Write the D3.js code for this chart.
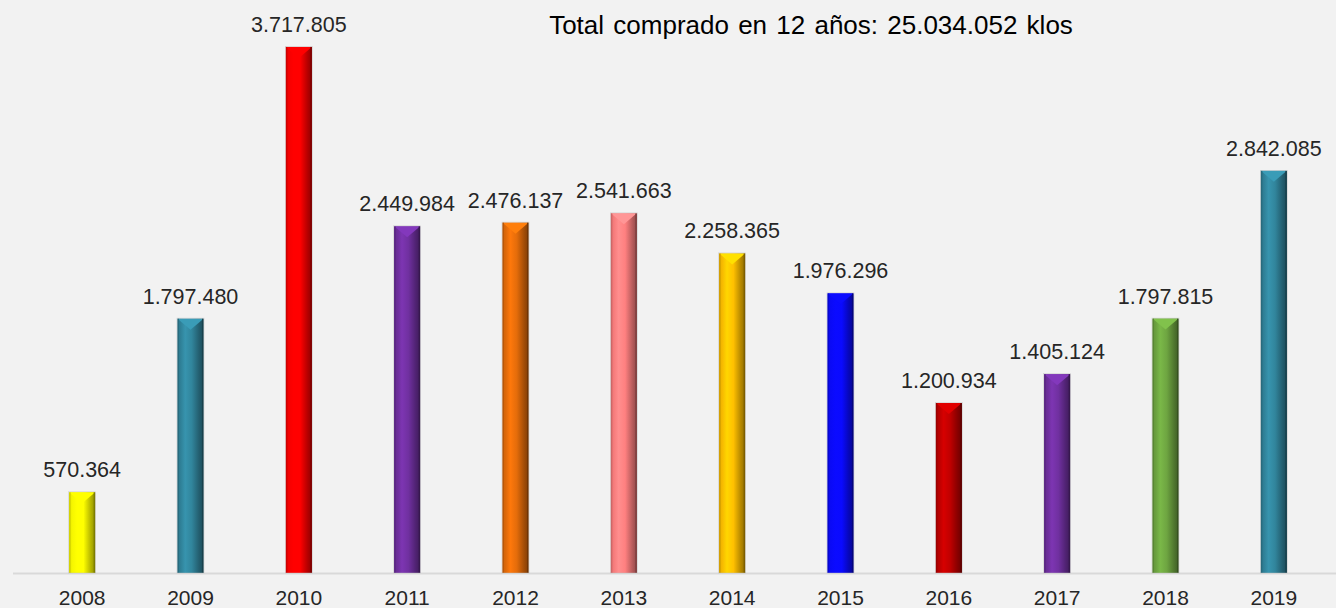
<!DOCTYPE html>
<html><head><meta charset="utf-8">
<script src="https://cdn.jsdelivr.net/npm/d3@7"></script>
<style>
html,body{margin:0;padding:0;background:#f2f2f2;}
svg{display:block;font-family:"Liberation Sans",Arial,sans-serif;}
</style></head>
<body>
<svg id="chart" width="1336" height="608"></svg>
<script>
const years = ["2008","2009","2010","2011","2012","2013","2014","2015","2016","2017","2018","2019"];
const values = [570364,1797480,3717805,2449984,2476137,2541663,2258365,1976296,1200934,1405124,1797815,2842085];
const labels = ["570.364","1.797.480","3.717.805","2.449.984","2.476.137","2.541.663","2.258.365","1.976.296","1.200.934","1.405.124","1.797.815","2.842.085"];
const colors = ["#ffff00","#31859c","#ff0000","#7030a0","#e46c0a","#ff8080","#ffc000","#0a0aff","#c00000","#7030a0","#6ea541","#31859c"];
const title = "Total comprado en 12 años: 25.034.052 klos";

const W = 1336, H = 608;
const svg = d3.select("#chart");
svg.append("rect").attr("width",W).attr("height",H).attr("fill","#f2f2f2");

const x = d3.scaleBand().domain(years).range([28,1328]).paddingInner(0.76).paddingOuter(0.38);
const y = d3.scaleLinear().domain([0,4000000]).range([573,7]);

const defs = svg.append("defs");
years.forEach((yr,i)=>{
  const c = d3.color(colors[i]);
  const g = defs.append("linearGradient").attr("id","g"+i).attr("x1","0").attr("x2","1").attr("y1","0").attr("y2","0");
  const stops = [
    [0, c.darker(0.3)],
    [0.12, c.darker(0.1)],
    [0.3, c.brighter(0.3)],
    [0.55, c],
    [0.82, c.darker(0.9)],
    [1, c.darker(1.6)]
  ];
  stops.forEach(s=>g.append("stop").attr("offset",s[0]).attr("stop-color",s[1].formatHex()));
});

// axis line
svg.append("line").attr("x1",13).attr("x2",W).attr("y1",y(0)+0.5).attr("y2",y(0)+0.5)
  .attr("stroke","#d9d9d9").attr("stroke-width",2);

const bars = svg.append("g").selectAll("g").data(years).join("g");
bars.append("rect")
  .attr("x",d=>x(d)).attr("width",x.bandwidth())
  .attr("y",(d,i)=>y(values[i])).attr("height",(d,i)=>y(0)-y(values[i]))
  .attr("fill",(d,i)=>`url(#g${i})`);
// top bevel triangle
bars.append("path")
  .attr("d",(d,i)=>{
    const x0=x(d), x1=x(d)+x.bandwidth(), t=y(values[i]), m=(x0+x1)/2;
    return `M${x0},${t}L${x1},${t}L${m},${t+11}Z`;
  })
  .attr("fill",(d,i)=>d3.color(colors[i]).brighter(0.45).formatHex());
// left & right bevel edges
bars.append("rect")
  .attr("x",d=>x(d)).attr("width",1.5)
  .attr("y",(d,i)=>y(values[i])).attr("height",(d,i)=>y(0)-y(values[i]))
  .attr("fill",(d,i)=>d3.color(colors[i]).darker(0.6).formatHex());
bars.append("rect")
  .attr("x",d=>x(d)+x.bandwidth()-1.5).attr("width",1.5)
  .attr("y",(d,i)=>y(values[i])).attr("height",(d,i)=>y(0)-y(values[i]))
  .attr("fill",(d,i)=>d3.color(colors[i]).darker(2).formatHex());
// thin light outline
bars.append("rect")
  .attr("x",d=>x(d)-0.5).attr("width",x.bandwidth()+1)
  .attr("y",(d,i)=>y(values[i])-0.5).attr("height",(d,i)=>y(0)-y(values[i])+0.5)
  .attr("fill","none").attr("stroke","#bfbfbf").attr("stroke-width",0.6).attr("stroke-opacity",0.7);

// value labels
svg.append("g").selectAll("text").data(years).join("text")
  .attr("x",d=>x(d)+x.bandwidth()/2)
  .attr("y",(d,i)=>y(values[i])-15)
  .attr("text-anchor","middle")
  .attr("font-size",21.5).attr("fill","#262626")
  .text((d,i)=>labels[i]);

// x axis labels
const xAxis = d3.axisBottom(x).tickSize(0).tickPadding(0);
const ax = svg.append("g").attr("transform",`translate(0,${y(0)})`).call(xAxis);
ax.select(".domain").remove();
ax.selectAll("text").attr("font-size",21).attr("fill","#262626")
  .attr("font-family","'Liberation Sans',Arial,sans-serif").attr("dy",null).attr("y",32);

// title
svg.append("text").attr("x",811).attr("y",34).attr("text-anchor","middle")
  .attr("font-size",26).attr("fill","#000").attr("word-spacing",2).text(title);
</script>
</body></html>
